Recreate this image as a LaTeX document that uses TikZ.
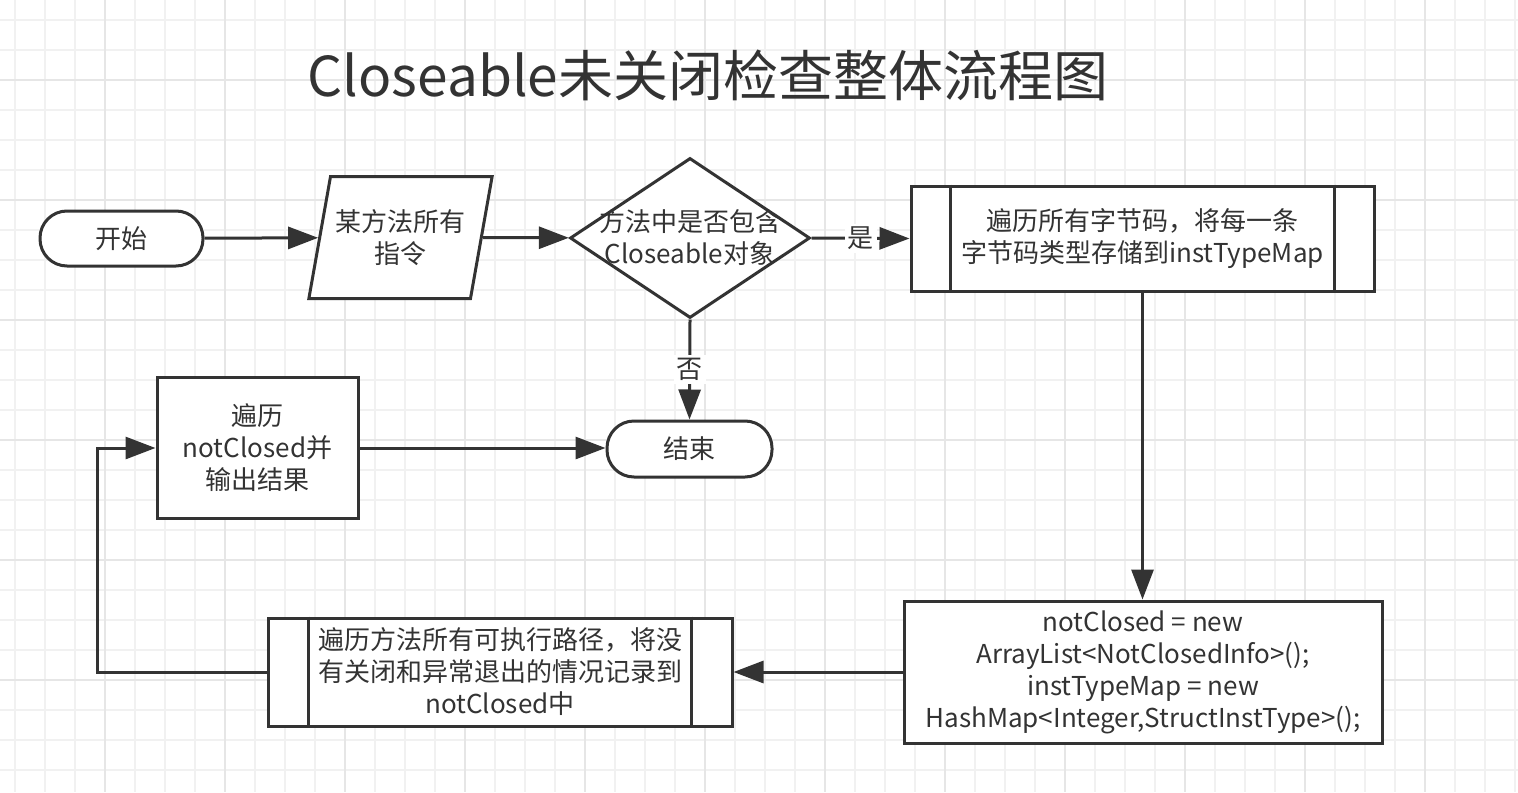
\documentclass[tikz,border=0pt]{standalone}
\usepackage{fontspec}
\setmainfont{Noto Sans CJK SC}
\usetikzlibrary{shapes.geometric,arrows.meta,calc}
\definecolor{linegray}{HTML}{333333}
\definecolor{gridminor}{HTML}{F1F1F1}
\definecolor{gridmajor}{HTML}{E6E6E6}

\begin{document}
\begin{tikzpicture}[x=0.5pt,y=-0.5pt,
    every node/.style={text=linegray, font=\fontsize{13pt}{16pt}\selectfont, align=center},
    box/.style={draw=linegray, line width=1.5pt, fill=white, inner sep=1pt},
    term/.style={box, rounded corners=13.5pt},
    flow/.style={draw=linegray, line width=1.5pt, -{Triangle[length=15pt,width=11pt]}},
    sideline/.style={draw=linegray, line width=1.5pt},
    answer/.style={fill=white, inner sep=1.5pt}]
	%Fundo
	\useasboundingbox[fill=white] (0,0) rectangle (1518,792);
	\foreach \x in {15,45,...,1515} \draw[gridminor, line width=1pt] (\x,0) -- (\x,792);
	\foreach \y in {20,50,...,790} \draw[gridminor, line width=1pt] (0,\y) -- (1518,\y);
	\foreach \x in {105,225,...,1425} \draw[gridmajor, line width=1pt] (\x,0) -- (\x,792);
	\foreach \y in {80,200,...,680} \draw[gridmajor, line width=1pt] (0,\y) -- (1518,\y);

	%Titulo
	\node (title) at (708,75) {\fontsize{27.5pt}{33pt}\selectfont Closeable未关闭检查整体流程图};

	%Linha de cima
	\node[term, minimum width=81.5pt, minimum height=27.5pt] (start) at (121.5,238.5) {开始};
	\node[box, trapezium, trapezium left angle=71, trapezium right angle=109, trapezium stretches=true,
	      minimum width=92.5pt, minimum height=61pt] (instr) at (400.5,237.5) {某方法所有\\指令};
	\node[box, diamond, minimum width=120pt, minimum height=80pt, inner sep=0pt,
	      label={[align=center]center:{方法中是否包含\\Closeable对象}}] (decide) at (690,238) {};
	\node[box, minimum width=231.5pt, minimum height=52.5pt] (bytecode) at (1142.5,238.5) {遍历所有字节码，将每一条\\字节码类型存储到instTypeMap};
	\draw[sideline] ($(bytecode.north west)+(41,0)$) -- ($(bytecode.south west)+(41,0)$);
	\draw[sideline] ($(bytecode.north east)+(-41,0)$) -- ($(bytecode.south east)+(-41,0)$);

	%Linha do meio
	\node[box, minimum width=100.5pt, minimum height=70.5pt] (report) at (257.5,448) {遍历\\notClosed并\\输出结果};
	\node[term, minimum width=82.5pt, minimum height=28pt] (stop) at (689.5,449) {结束};

	%Linha de baixo
	\node[box, minimum width=232pt, minimum height=54pt] (paths) at (500,672) {遍历方法所有可执行路径，将没\\有关闭和异常退出的情况记录到\\notClosed中};
	\draw[sideline] ($(paths.north west)+(42,0)$) -- ($(paths.south west)+(42,0)$);
	\draw[sideline] ($(paths.north east)+(-42,0)$) -- ($(paths.south east)+(-42,0)$);
	\node[box, minimum width=239pt, minimum height=71pt] (init) at (1143,672) {notClosed = new\\ArrayList<NotClosedInfo>();\\instTypeMap = new\\HashMap<Integer,StructInstType>();};
	\coordinate (back) at (97,672);

	%Setas
	\draw[flow] (start) -- (instr);
	\draw[flow] (instr) -- (decide);
	\draw[flow] (decide.east) -- node[answer] {是} (bytecode.west);
	\draw[flow] (decide.south) -- node[answer] {否} (stop.north);
	\draw[flow] (bytecode.south) -- (bytecode.south |- init.north);
	\draw[flow] (init.west) -- (paths.east);
	\draw[flow] (paths.west) -- (back) |- (report.west);
	\draw[flow] (report.east) -- (report.east -| stop.west);
\end{tikzpicture}
\end{document}
